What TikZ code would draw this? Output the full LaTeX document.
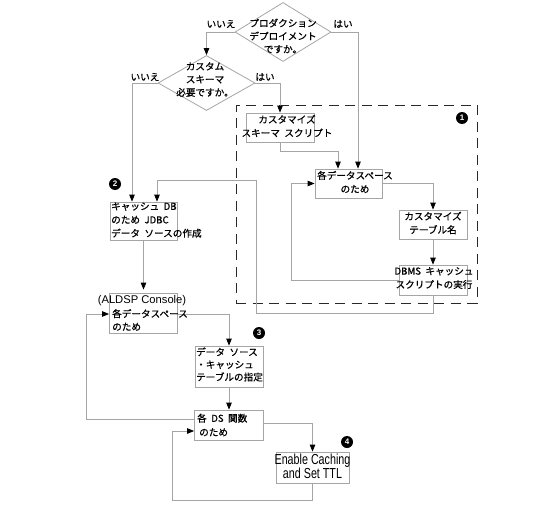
\documentclass[tikz,border=0pt]{standalone}
\usepackage{fontspec}
\setmainfont{Noto Sans CJK JP}[FakeBold=0.8]
\newfontfamily\narrowfont{Liberation Sans}[FakeStretch=0.74]
\newfontfamily\armfont{Liberation Sans}
\newfontfamily\badgefont{Liberation Sans Bold}
\usetikzlibrary{arrows.meta,shapes.geometric}
\definecolor{linegray}{RGB}{165,165,165}
\definecolor{framegray}{RGB}{40,40,40}
\newcommand{\jsp}{\hspace{4.5pt}}
\tikzset{
  line/.style={draw=linegray, line width=0.8pt},
  arr/.style={line, -{Triangle[color=black,length=7pt,width=5.5pt]}},
  boxnode/.style 2 args={draw=linegray, line width=0.8pt, rectangle, inner sep=0pt,
    minimum width=#1, minimum height=#2},
  dia/.style 2 args={draw=linegray, line width=0.8pt, diamond, inner sep=0pt,
    minimum width=#1, minimum height=#2},
  jtext/.style={inner sep=0pt, align=center, font=\fontsize{9.6}{13.5}\selectfont},
  jleft/.style={inner sep=0pt, align=left, anchor=west, font=\fontsize{9.6}{13.5}\selectfont},
  lbl/.style={inner sep=0pt, font=\fontsize{9.6}{12}\selectfont},
  badge/.style={circle, fill=black, inner sep=0pt, minimum size=12pt,
    text=white, font=\badgefont\fontsize{8}{8}\selectfont},
  frame/.style={draw=framegray, line width=0.9pt, dash pattern=on 10pt off 6.5pt,
    rectangle, inner sep=0pt}
}
\begin{document}
\begin{tikzpicture}[x=1pt,y=-1pt]
\useasboundingbox (0,0) rectangle (545,508);

% dashed frame
\node[frame, minimum width=241pt, minimum height=198pt] (frm) at (356.5,204) {};

% diamonds
\node[dia={96pt}{59pt}] (d1) at (283,32) {};
\node[dia={97pt}{55pt}] (d2) at (206.5,83) {};

% boxes
\node[boxnode={68pt}{29pt}] (b1) at (280,127.5) {};
\node[boxnode={67pt}{29pt}] (eds1) at (348.5,183.5) {};
\node[boxnode={68pt}{29pt}] (ct) at (433,224.5) {};
\node[boxnode={68pt}{30pt}] (dbms) at (433,280) {};
\node[boxnode={67pt}{38pt}] (cdb) at (143.5,221) {};
\node[boxnode={68pt}{40pt}] (eds2) at (143.5,313) {};
\node[boxnode={68pt}{41pt}] (dsrc) at (229,366.5) {};
\node[boxnode={69pt}{30pt}] (dsf) at (229,425) {};
\node[boxnode={73pt}{31pt}] (en) at (312.5,467.5) {};

% connectors
\draw[arr] (d1.west) -| (d2.north);
\draw[arr] (d1.east) -| ([xshift=9.5pt]eds1.north);
\draw[arr] (d2.west) -| ([xshift=-11.5pt]cdb.north);
\draw[arr] (d2.east) -| (b1.north);
\draw[arr] (b1.south) -- ++(0,9) -| ([xshift=-10.5pt]eds1.north);
\draw[arr] (eds1.east) -| (ct.north);
\draw[arr] (ct.south) -- (dbms.north);
\draw[arr] (dbms.west) -- ++(-107,0) |- (eds1.west);
\draw[arr] (dbms.south) -- ++(0,18) -- ++(-177,0) -- ++(0,-133) -| ([xshift=13.5pt]cdb.north);
\draw[arr] (cdb.south) -- ([yshift=3pt]eds2.north);
\draw[arr] ([yshift=-1pt]eds2.east) -| (dsrc.north);
\draw[arr] ([yshift=6pt]dsf.west) -- ++(-108,0) |- ([yshift=-1pt]eds2.west);
\draw[arr] (dsrc.south) -- (dsf.north);
\draw[arr] ([yshift=2pt]dsf.east) -| (en.north);
\draw[arr] (en.south) -- ++(0,17) -- ++(-140.5,0) |- ([yshift=-6pt]dsf.west);

% texts
\node[jtext, font=\fontsize{9.6}{13}\selectfont] (t1) at (283,36) {プロダクション\\デプロイメント\\ですか。};
\node[jtext, font=\fontsize{9.6}{13}\selectfont] (t2) at (205,79.5) {カスタム\\スキーマ\\必要ですか。};
\node[lbl] (l1) at (221,24) {いいえ};
\node[lbl] (l2) at (343,24) {はい};
\node[lbl] (l3) at (145,77) {いいえ};
\node[lbl] (l4) at (265,77) {はい};

\node[jtext] (b1t) at (287,126) {カスタマイズ\\スキーマ\jsp スクリプト};
\node[jtext] (eds1t) at (355,182) {各データスペース\\のため};
\node[jtext] (ctt) at (433,223) {カスタマイズ\\テーブル名};
\node[jtext] (dbmst) at (434,278) {DBMS\jsp キャッシュ\\スクリプトの実行};
\node[jleft] (cdbt) at (111,220) {キャッシュ\jsp DB\\のため\jsp JDBC\\データ\jsp ソースの作成};
\node[inner sep=0pt, font=\armfont\fontsize{11.2}{12}\selectfont] (eds2a) at (142,301) {(ALDSP Console)};
\node[jleft, font=\fontsize{9.6}{13}\selectfont] (eds2t) at (112,320) {各データスペース\\のため};
\node[jleft, font=\fontsize{9.6}{12.5}\selectfont] (dsrct) at (196,364.5) {データ\jsp ソース\\・キャッシュ\\テーブルの指定};
\node[jleft, font=\fontsize{9.6}{14}\selectfont] (dsft) at (197,425) {各\jsp DS\jsp 関数\\\hspace{2pt}のため};
\node[inner sep=0pt, align=center, font=\narrowfont\fontsize{14.5}{10.7}\selectfont] (ent) at (312.5,466.5) {Enable Caching\\and Set TTL};

% badges
\node[badge] (n1) at (462,118) {1};
\node[badge] (n2) at (115,184) {2};
\node[badge] (n3) at (259,333) {3};
\node[badge] (n4) at (347,442) {4};
\end{tikzpicture}
\end{document}
